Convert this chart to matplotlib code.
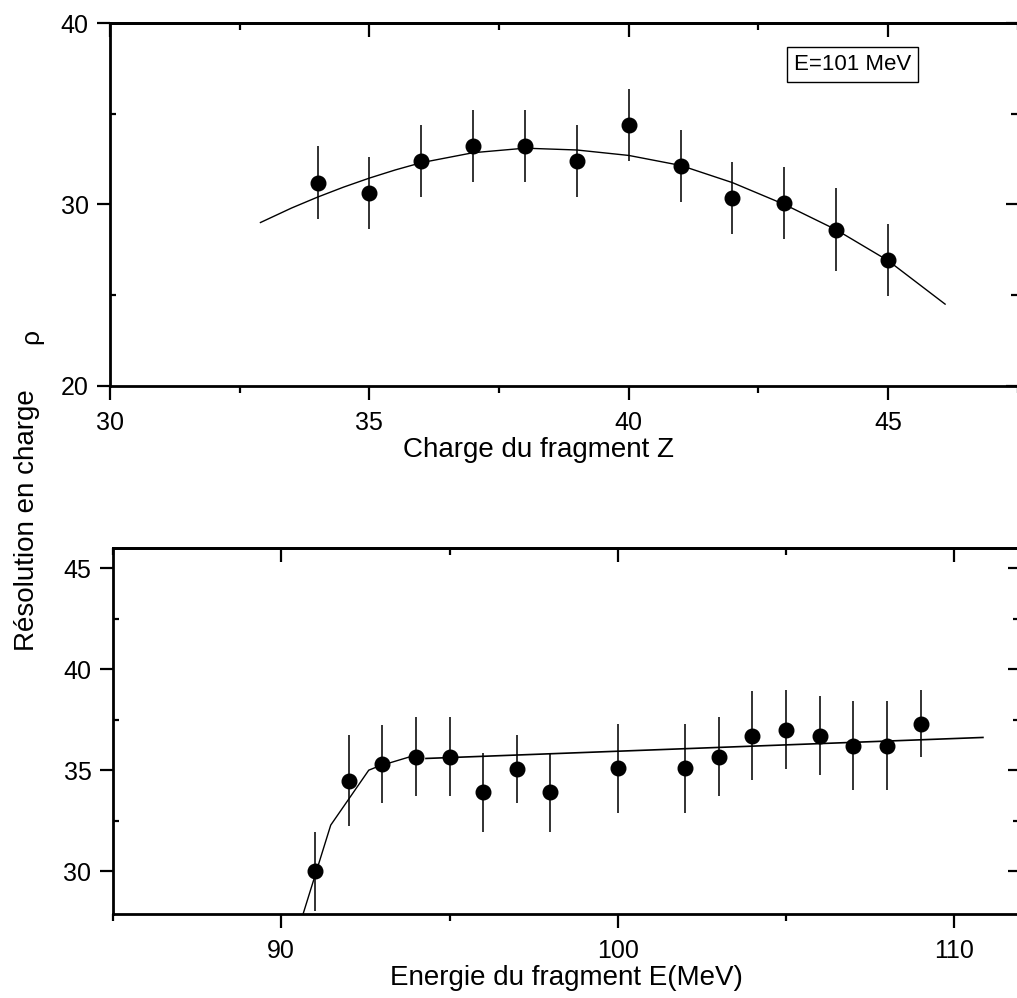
import matplotlib
matplotlib.use('Agg')
import matplotlib.pyplot as plt

plt.rcParams['font.family'] = ['Liberation Sans', 'DejaVu Sans']

# top panel: resolution vs fragment charge at E=101 MeV
charge_z = [34, 35, 36, 37, 38, 39, 40, 41, 42, 43, 44, 45]
rho_z = [31.2, 30.63, 32.4, 33.22, 33.22, 32.4, 34.38, 32.12, 30.36, 30.08, 28.6, 26.94]
err_z = [2.0, 2.0, 2.0, 2.0, 2.0, 2.0, 2.0, 2.0, 2.0, 2.0, 2.3, 2.0]
fit_z = [32.9, 33.5, 34, 34.5, 35, 35.5, 36, 37, 38, 39, 40, 41, 42, 43, 44, 45, 46.1]
fit_rho_z = [29.0, 29.8, 30.4, 30.95, 31.45, 31.9, 32.3, 32.85, 33.1, 33.0, 32.7,
             32.15, 31.2, 30.0, 28.6, 26.9, 24.5]

# bottom panel: resolution vs fragment energy
energy = [91, 92, 93, 94, 95, 96, 97, 98, 100, 102, 103, 104, 105, 106, 107, 108, 109]
rho_e = [30.0, 34.48, 35.31, 35.66, 35.66, 33.9, 35.05, 33.9, 35.09, 35.09, 35.66,
         36.7, 37.0, 36.7, 36.2, 36.2, 37.3]
err_e = [1.95, 2.25, 1.95, 1.95, 1.95, 1.95, 1.7, 1.95, 2.2, 2.2, 1.95, 2.2, 1.95,
         1.95, 2.2, 2.2, 1.65]
fit1_e = [90.55, 91.47, 92.6, 92.9, 93.9]
fit1_rho = [27.35, 32.28, 35.0, 35.2, 35.7]
fit2_e = [94.3, 110.85]
fit2_rho = [35.58, 36.62]


def style_axes(ax, xmaj, xmin, ymaj, ymin, xpad):
    for sp in ax.spines.values():
        sp.set_linewidth(2)
    ax.set_xticks(xmaj)
    ax.set_xticks(xmin, minor=True)
    ax.set_yticks(ymaj)
    ax.set_yticks(ymin, minor=True)
    ax.tick_params(axis='x', which='major', direction='out', length=10, width=1.6,
                   labelsize=18, pad=xpad)
    ax.tick_params(axis='x', which='minor', direction='out', length=5, width=1.6)
    ax.tick_params(axis='y', which='major', direction='out', length=9.5, width=1.6,
                   labelsize=18, pad=6)
    ax.tick_params(axis='y', which='minor', direction='in', length=4, width=1.6)

    top = ax.secondary_xaxis('top')
    top.set_xticks(xmaj)
    top.set_xticks(xmin, minor=True)
    top.tick_params(which='major', direction='in', length=10, width=1.6, labeltop=False)
    top.tick_params(which='minor', direction='in', length=5, width=1.6)
    top.spines['top'].set_linewidth(2)

    right = ax.secondary_yaxis('right')
    right.set_yticks(ymaj)
    right.set_yticks(ymin, minor=True)
    right.tick_params(which='major', direction='in', length=9, width=1.6, labelright=False)
    right.tick_params(which='minor', direction='in', length=5, width=1.6)
    right.spines['right'].set_linewidth(2)


fig = plt.figure(figsize=(10.17, 9.98), dpi=100)

ax1 = fig.add_axes([0.1082, 0.6135, 0.8925, 0.3634])
ax1.errorbar(charge_z, rho_z, yerr=err_z, fmt='none', ecolor='#222222', elinewidth=1.3, capsize=0)
ax1.plot(charge_z, rho_z, 'o', color='black', markersize=10.5)
ax1.plot(fit_z, fit_rho_z, color='black', lw=1)
ax1.set_xlim(30, 47.5)
ax1.set_ylim(20, 40)
style_axes(ax1, [30, 35, 40, 45], [32.5, 37.5, 42.5, 47.5], [20, 30, 40], [25, 35], 8)
ax1.set_xlabel('Charge du fragment Z', fontsize=20)
ax1.xaxis.set_label_coords(0.472, -0.14)
ax1.text(0.818, 0.886, 'E=101 MeV', transform=ax1.transAxes, fontsize=16,
         ha='center', va='center',
         bbox=dict(boxstyle='square,pad=0.3', facecolor='white', edgecolor='black', lw=1))

ax2 = fig.add_axes([0.1111, 0.0846, 0.8918, 0.3663])
ax2.errorbar(energy, rho_e, yerr=err_e, fmt='none', ecolor='#222222', elinewidth=1.3, capsize=0)
ax2.plot(energy, rho_e, 'o', color='black', markersize=10.5)
ax2.plot(fit1_e, fit1_rho, color='black', lw=1)
ax2.plot(fit2_e, fit2_rho, color='black', lw=1.2)
ax2.set_xlim(85, 111.95)
ax2.set_ylim(27.9, 46)
style_axes(ax2, [90, 100, 110], [85, 95, 105], [30, 35, 40, 45], [32.5, 37.5, 42.5], 8)
ax2.set_xlabel('Energie du fragment E(MeV)', fontsize=20)
ax2.xaxis.set_label_coords(0.5, -0.14)

fig.text(27 / 1017, 1 - 520 / 998, 'Résolution en charge', rotation=90,
         ha='center', va='center', fontsize=20)
fig.text(31 / 1017, 1 - 337 / 998, 'ρ', rotation=90, ha='center', va='center', fontsize=19)

fig.savefig('out.png', dpi=100)
